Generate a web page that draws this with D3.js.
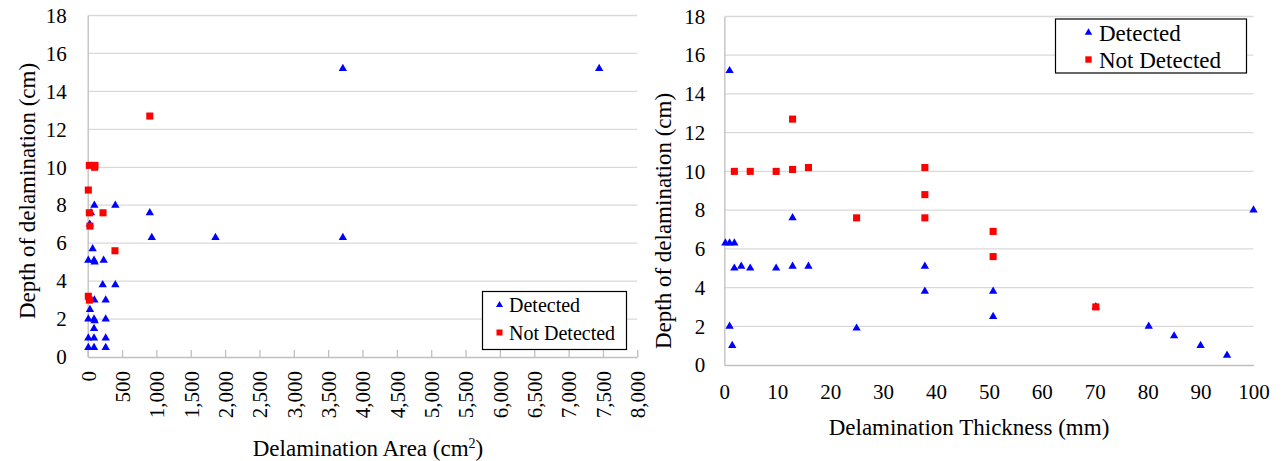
<!DOCTYPE html>
<html>
<head>
<meta charset="utf-8">
<script src="https://cdn.jsdelivr.net/npm/d3@7"></script>
</head>
<body style="margin:0;padding:0;background:#fff">
<svg id="chart" width="1283" height="461" font-family="Liberation Serif" style="display:block"></svg>
<script>
// ---------- Data ----------
// Left chart: Delamination Area (cm²) vs depth (cm)
const leftDetectedArea  = [3714, 7445, 904, 933, 1860, 3714, 402, 97, 48, 30, 72, 9, 92, 101, 232, 218, 402, 97, 262, 33, 9, 92, 101, 262, 92, 9, 92, 262, 9, 92, 262];
const leftDetectedDepth = [15.2, 15.2, 7.6, 6.3, 6.3, 6.3, 8.0, 8.0, 7.6, 7.0, 5.7, 5.1, 5.1, 5.0, 5.1, 3.8, 3.8, 3.0, 3.0, 2.5, 2.0, 2.0, 1.9, 2.0, 1.5, 1.0, 1.0, 1.0, 0.5, 0.5, 0.5];
const leftNotDetectedArea  = [904, 24, 106, 100, 9, 24, 223, 33, 397, 9, 24];
const leftNotDetectedDepth = [12.7, 10.1, 10.1, 10.0, 8.8, 7.6, 7.6, 6.9, 5.6, 3.2, 3.0];

// Right chart: Delamination Thickness (mm) vs depth (cm)
const rightDetectedThickness = [1.0, 12.9, 0.2, 1.0, 1.9, 1.9, 3.2, 4.9, 9.8, 12.9, 15.9, 37.9, 37.9, 50.8, 50.8, 25.0, 1.0, 1.5, 70.2, 80.2, 85, 90, 95, 100];
const rightDetectedDepth     = [15.2, 7.6, 6.3, 6.3, 6.3, 5.0, 5.1, 5.0, 5.0, 5.1, 5.1, 5.1, 3.8, 3.8, 2.5, 1.9, 2.0, 1.0, 3.0, 2.0, 1.5, 1.0, 0.5, 8.0];
const rightNotDetectedThickness = [12.9, 1.9, 4.9, 9.8, 12.9, 15.9, 37.9, 37.9, 25.0, 37.9, 50.8, 50.8, 70.2];
const rightNotDetectedDepth     = [12.7, 10.0, 10.0, 10.0, 10.1, 10.2, 10.2, 8.8, 7.6, 7.6, 6.9, 5.6, 3.0];

// Tick values / labels
const depthTicks = [0, 2, 4, 6, 8, 10, 12, 14, 16, 18];
const areaTicks = [0, 500, 1000, 1500, 2000, 2500, 3000, 3500, 4000, 4500, 5000, 5500, 6000, 6500, 7000, 7500, 8000];
const thicknessTicks = [0, 10, 20, 30, 40, 50, 60, 70, 80, 90, 100];
const seriesNames = ["Detected", "Not Detected"];

// ---------- Drawing ----------
const svg = d3.select("#chart");
svg.append("rect").attr("width", 1283).attr("height", 461).attr("fill", "#fff");

const gridColor = "#d9d9d9";
const axisColor = "#bfbfbf";
const blue = "#0000ff";
const red = "#ff0000";
const tri = d3.symbol().type(d3.symbolTriangle).size(30);
const sq = d3.symbol().type(d3.symbolSquare).size(50);

function styleText(sel, size) {
  return sel.attr("font-family", "Liberation Serif").attr("font-size", size)
    .style("font-family", '"Liberation Serif"').style("font-size", size + "px").attr("fill", "#000");
}

function drawChart(cfg) {
  const g = svg.append("g").attr("font-family", "Liberation Serif");
  const x = d3.scaleLinear().domain(cfg.xDomain).range([cfg.x0, cfg.x1]);
  const y = d3.scaleLinear().domain([0, 18]).range([cfg.y0, cfg.y1]);

  // gridlines
  g.append("g").selectAll("line").data(depthTicks.filter(d => d > 0)).join("line")
    .attr("x1", cfg.x0).attr("x2", cfg.x1)
    .attr("y1", d => y(d)).attr("y2", d => y(d))
    .attr("stroke", gridColor).attr("stroke-width", 1.3);

  // y axis
  const ya = g.append("g").attr("transform", `translate(${cfg.x0},0)`)
    .call(d3.axisLeft(y).tickValues(depthTicks).tickSize(0).tickPadding(cfg.yPad).tickFormat(d3.format("d")));
  ya.attr("font-family", "Liberation Serif").attr("font-size", 21);
  ya.select(".domain").attr("stroke", axisColor).attr("stroke-width", 1.3);
  styleText(ya.selectAll("text"), 21);

  // x axis
  const xa = g.append("g").attr("transform", `translate(0,${cfg.y0})`)
    .call(d3.axisBottom(x).tickValues(cfg.xTicks).tickSizeInner(cfg.xTickUp ? -7 : 0).tickSizeOuter(0)
      .tickFormat(cfg.xFormat));
  xa.attr("font-family", "Liberation Serif").attr("font-size", 21);
  xa.select(".domain").attr("stroke", axisColor).attr("stroke-width", 1.3);
  xa.selectAll(".tick line").attr("stroke", axisColor).attr("stroke-width", 1.3);
  styleText(xa.selectAll("text"), 21);
  if (cfg.rotate) {
    xa.selectAll("text")
      .attr("text-anchor", "end")
      .attr("transform", "rotate(-90)")
      .attr("x", -14).attr("y", 0).attr("dy", "0.35em");
  } else {
    xa.selectAll("text").attr("y", 19).attr("dy", "0.71em");
  }

  // points: detected first, not detected on top
  g.append("g").selectAll("path").data(cfg.det).join("path")
    .attr("d", tri).attr("fill", blue)
    .attr("transform", d => `translate(${x(d[0])},${y(d[1])})`);
  g.append("g").selectAll("path").data(cfg.nd).join("path")
    .attr("d", sq).attr("fill", red)
    .attr("transform", d => `translate(${x(d[0])},${y(d[1])})`);

  // y title
  styleText(g.append("text"), 23)
    .attr("transform", `translate(${cfg.yTitleX},${cfg.yTitleY}) rotate(-90)`)
    .attr("text-anchor", "middle").attr("dy", "0.35em")
    .text("Depth of delamination (cm)");

  // x title
  const xt = styleText(g.append("text"), 23)
    .attr("x", cfg.xTitleX).attr("y", cfg.xTitleY)
    .attr("text-anchor", "middle").attr("dy", "0.35em");
  cfg.xTitle(xt);

  // legend
  const L = cfg.legend;
  const lg = g.append("g");
  lg.append("rect").attr("x", L.x).attr("y", L.y).attr("width", L.w).attr("height", L.h)
    .attr("fill", "#fff").attr("stroke", "#000").attr("stroke-width", 1.2);
  seriesNames.forEach((name, i) => {
    const cy = L.y + L.rows[i];
    lg.append("path").attr("d", i === 0 ? tri : sq).attr("fill", i === 0 ? blue : red)
      .attr("transform", `translate(${L.mx},${cy}) scale(${L.ms})`);
    styleText(lg.append("text"), L.fs).attr("x", L.tx).attr("y", cy).attr("dy", "0.35em").text(name);
  });
}

const zip = (a, b) => a.map((v, i) => [v, b[i]]);

drawChart({
  xDomain: [0, 8000], x0: 87.7, x1: 637.3, y0: 357, y1: 15.5,
  xTicks: areaTicks, xTickUp: true, rotate: true, xFormat: d3.format(","),
  yPad: 21,
  det: zip(leftDetectedArea, leftDetectedDepth),
  nd: zip(leftNotDetectedArea, leftNotDetectedDepth),
  yTitleX: 27, yTitleY: 191,
  xTitleX: 368, xTitleY: 448,
  xTitle: t => {
    t.append("tspan").text("Delamination Area (cm");
    t.append("tspan").attr("font-size", 14).style("font-size", "14px").attr("dy", -8).text("2");
    t.append("tspan").attr("dy", 8).text(")");
  },
  legend: { x: 482.5, y: 291.5, w: 144, h: 58, rows: [13.5, 41], mx: 499.5, ms: 0.85, tx: 509, fs: 20 }
});

drawChart({
  xDomain: [0, 100], x0: 724.3, x1: 1253.5, y0: 365, y1: 16.5,
  xTicks: thicknessTicks, xTickUp: false, rotate: false, xFormat: d3.format("d"),
  yPad: 19,
  det: zip(rightDetectedThickness, rightDetectedDepth),
  nd: zip(rightNotDetectedThickness, rightNotDetectedDepth),
  yTitleX: 663, yTitleY: 221,
  xTitleX: 969, xTitleY: 427,
  xTitle: t => t.text("Delamination Thickness (mm)"),
  legend: { x: 1055.5, y: 19, w: 191, h: 54, rows: [13.5, 40.5], mx: 1088.5, ms: 0.9, tx: 1099, fs: 23 }
});
</script>
</body>
</html>
